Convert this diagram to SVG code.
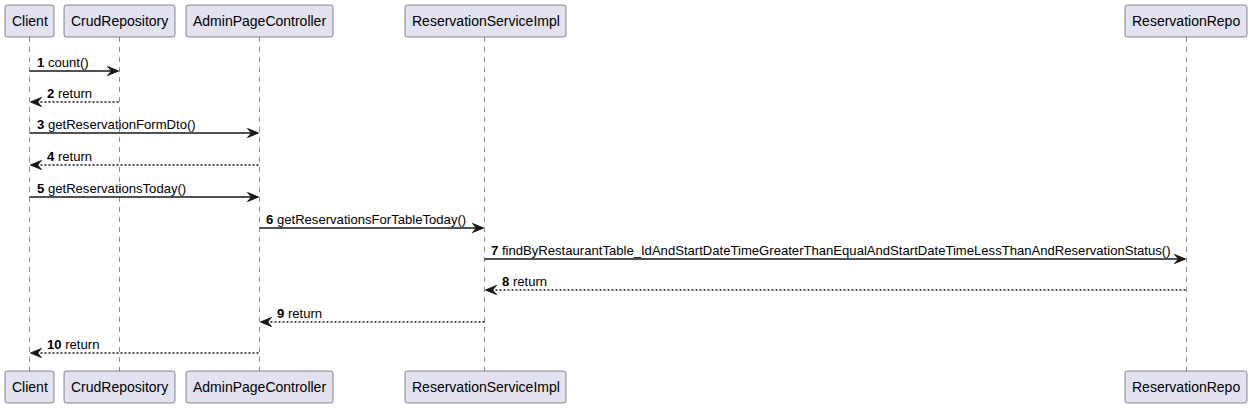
<svg xmlns="http://www.w3.org/2000/svg" width="1253" height="408" viewBox="0 0 1253 408">
<style>
.box{fill:#E2E2F0;stroke:#181818;stroke-width:0.5}
.pt{font-family:"Liberation Sans",Arial,sans-serif;font-size:14px;fill:#000}
.life{stroke:#181818;stroke-width:0.5;stroke-dasharray:5,5;fill:none}
.msg{stroke:#181818;stroke-width:1.5;fill:none}
.ret{stroke:#181818;stroke-width:1.5;stroke-dasharray:2,2;fill:none}
.head{fill:#181818;stroke:#181818;stroke-width:1}
.ml{font-family:"Liberation Sans",Arial,sans-serif;font-size:13.1px;fill:#000}
.num{font-weight:bold}
</style>
<rect width="1253" height="408" fill="#FFFFFF"/>
<g id="lifelines">
<line class="life" x1="29.5" y1="37" x2="29.5" y2="371"/>
<line class="life" x1="119.5" y1="37" x2="119.5" y2="371"/>
<line class="life" x1="259.5" y1="37" x2="259.5" y2="371"/>
<line class="life" x1="484.5" y1="37" x2="484.5" y2="371"/>
<line class="life" x1="1186.5" y1="37" x2="1186.5" y2="371"/>
</g>
<g id="Client">
<rect class="box" x="5" y="5" width="49" height="32" rx="2.5"/>
<text class="pt" x="12" y="26">Client</text>
<rect class="box" x="5" y="371" width="49" height="32" rx="2.5"/>
<text class="pt" x="12" y="392">Client</text>
</g>
<g id="CrudRepository">
<rect class="box" x="64" y="5" width="111" height="32" rx="2.5"/>
<text class="pt" x="71" y="26">CrudRepository</text>
<rect class="box" x="64" y="371" width="111" height="32" rx="2.5"/>
<text class="pt" x="71" y="392">CrudRepository</text>
</g>
<g id="AdminPageController">
<rect class="box" x="186" y="5" width="147" height="32" rx="2.5"/>
<text class="pt" x="193" y="26">AdminPageController</text>
<rect class="box" x="186" y="371" width="147" height="32" rx="2.5"/>
<text class="pt" x="193" y="392">AdminPageController</text>
</g>
<g id="ReservationServiceImpl">
<rect class="box" x="405" y="5" width="161" height="32" rx="2.5"/>
<text class="pt" x="412" y="26">ReservationServiceImpl</text>
<rect class="box" x="405" y="371" width="161" height="32" rx="2.5"/>
<text class="pt" x="412" y="392">ReservationServiceImpl</text>
</g>
<g id="ReservationRepo">
<rect class="box" x="1125" y="5" width="122" height="32" rx="2.5"/>
<text class="pt" x="1132" y="26">ReservationRepo</text>
<rect class="box" x="1125" y="371" width="122" height="32" rx="2.5"/>
<text class="pt" x="1132" y="392">ReservationRepo</text>
</g>
<g id="connectors">
<line class="msg" x1="29.5" y1="71" x2="117.5" y2="71"/>
<polygon class="head" points="107.5,66.5 118.5,71 107.5,75.5 111.5,71"/>
<text class="ml" x="37" y="67"><tspan class="num">1</tspan> count()</text>

<line class="ret" x1="32.5" y1="102" x2="119.5" y2="102"/>
<polygon class="head" points="41.5,97.5 30.5,102 41.5,106.5 37.5,102"/>
<text class="ml" x="47" y="98"><tspan class="num">2</tspan> return</text>

<line class="msg" x1="29.5" y1="133" x2="257.5" y2="133"/>
<polygon class="head" points="247.5,128.5 258.5,133 247.5,137.5 251.5,133"/>
<text class="ml" x="37" y="129"><tspan class="num">3</tspan> getReservationFormDto()</text>

<line class="ret" x1="32.5" y1="165" x2="259.5" y2="165"/>
<polygon class="head" points="41.5,160.5 30.5,165 41.5,169.5 37.5,165"/>
<text class="ml" x="47" y="161"><tspan class="num">4</tspan> return</text>

<line class="msg" x1="29.5" y1="197" x2="257.5" y2="197"/>
<polygon class="head" points="247.5,192.5 258.5,197 247.5,201.5 251.5,197"/>
<text class="ml" x="37" y="193"><tspan class="num">5</tspan> getReservationsToday()</text>

<line class="msg" x1="259.5" y1="228" x2="482.5" y2="228"/>
<polygon class="head" points="472.5,223.5 483.5,228 472.5,232.5 476.5,228"/>
<text class="ml" x="266" y="224"><tspan class="num">6</tspan> getReservationsForTableToday()</text>

<line class="msg" x1="484.5" y1="259" x2="1184.5" y2="259"/>
<polygon class="head" points="1174.5,254.5 1185.5,259 1174.5,263.5 1178.5,259"/>
<text class="ml" x="491" y="255"><tspan class="num">7</tspan> findByRestaurantTable_IdAndStartDateTimeGreaterThanEqualAndStartDateTimeLessThanAndReservationStatus()</text>

<line class="ret" x1="487.5" y1="290" x2="1186.5" y2="290"/>
<polygon class="head" points="496.5,285.5 485.5,290 496.5,294.5 492.5,290"/>
<text class="ml" x="502" y="286"><tspan class="num">8</tspan> return</text>

<line class="ret" x1="262.5" y1="322" x2="484.5" y2="322"/>
<polygon class="head" points="271.5,317.5 260.5,322 271.5,326.5 267.5,322"/>
<text class="ml" x="277" y="318"><tspan class="num">9</tspan> return</text>

<line class="ret" x1="32.5" y1="353" x2="259.5" y2="353"/>
<polygon class="head" points="41.5,348.5 30.5,353 41.5,357.5 37.5,353"/>
<text class="ml" x="47" y="349"><tspan class="num">10</tspan> return</text>
</g>
</svg>
